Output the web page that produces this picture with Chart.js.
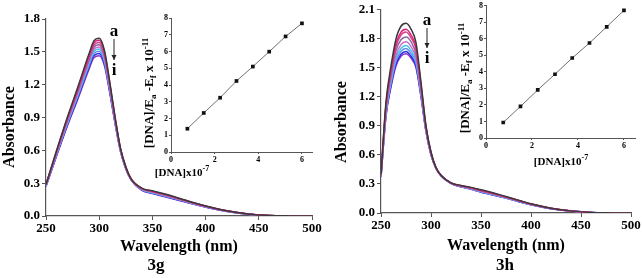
<!DOCTYPE html>
<html>
<head>
<meta charset="utf-8">
<script src="https://cdn.jsdelivr.net/npm/chart.js@4.4.1/dist/chart.umd.min.js"></script>
<style>
  body { margin: 0; background: #fff; width: 642px; height: 278px; overflow: hidden; position: relative; }
  canvas { position: absolute; left: 0; top: 0; }
</style>
</head>
<body>
<canvas id="main3g" width="642" height="278"></canvas>
<canvas id="inset3g" width="642" height="278"></canvas>
<canvas id="main3h" width="642" height="278"></canvas>
<canvas id="inset3h" width="642" height="278"></canvas>
<script>
// UV-vis titration spectra (a -> i) with Wolfe-Shimer insets

// ── 3g spectra ──────────────────────────────────────────────
const WAVE_3G = [250,260,270,280,290,295,300,305,310,315,320,325,330,340,350,360,370,380,390,400,420,440,460,480,500];
const ABS_3G_A = [0.290,0.600,0.900,1.180,1.470,1.600,1.625,1.510,1.220,0.900,0.620,0.450,0.340,0.255,0.230,0.205,0.178,0.148,0.118,0.092,0.048,0.019,0.004,0.001,0];
const ABS_3G_B = [0.288,0.594,0.890,1.166,1.453,1.581,1.605,1.493,1.208,0.893,0.616,0.448,0.339,0.253,0.227,0.202,0.175,0.146,0.116,0.091,0.047,0.019,0.004,0.001,0];
const ABS_3G_C = [0.285,0.588,0.880,1.153,1.435,1.561,1.585,1.475,1.195,0.885,0.613,0.445,0.338,0.250,0.224,0.199,0.172,0.144,0.115,0.090,0.047,0.018,0.004,0.001,0];
const ABS_3G_D = [0.283,0.581,0.870,1.139,1.418,1.542,1.565,1.458,1.183,0.878,0.609,0.443,0.336,0.248,0.221,0.196,0.169,0.141,0.113,0.088,0.046,0.018,0.004,0.001,0];
const ABS_3G_E = [0.280,0.575,0.860,1.125,1.400,1.523,1.545,1.440,1.170,0.870,0.605,0.440,0.335,0.245,0.218,0.193,0.167,0.139,0.112,0.087,0.045,0.018,0.004,0.001,0];
const ABS_3G_F = [0.278,0.569,0.850,1.111,1.383,1.503,1.525,1.423,1.158,0.863,0.601,0.438,0.334,0.243,0.214,0.189,0.164,0.137,0.110,0.086,0.044,0.017,0.003,0.001,0];
const ABS_3G_G = [0.275,0.563,0.840,1.098,1.365,1.484,1.505,1.405,1.145,0.855,0.598,0.435,0.333,0.240,0.211,0.186,0.161,0.135,0.108,0.085,0.044,0.017,0.003,0.001,0];
const ABS_3G_H = [0.273,0.556,0.830,1.084,1.348,1.464,1.485,1.388,1.133,0.848,0.594,0.433,0.331,0.238,0.208,0.183,0.158,0.132,0.107,0.083,0.043,0.016,0.003,0,0];
const ABS_3G_I = [0.270,0.550,0.820,1.070,1.330,1.445,1.465,1.370,1.120,0.840,0.590,0.430,0.330,0.235,0.205,0.180,0.155,0.130,0.105,0.082,0.042,0.016,0.003,0,0];

// ── 3h spectra ──────────────────────────────────────────────
const WAVE_3H = [250,255,260,265,270,275,280,285,290,295,300,305,310,320,330,340,350,360,370,380,390,400,420,440,460,480,500];
const ABS_3H_A = [0.400,1.150,1.520,1.800,1.930,1.960,1.900,1.760,1.350,0.900,0.630,0.470,0.390,0.312,0.285,0.265,0.240,0.215,0.185,0.155,0.125,0.095,0.050,0.022,0.006,0.001,0];
const ABS_3H_B = [0.394,1.120,1.480,1.750,1.870,1.900,1.840,1.710,1.320,0.889,0.624,0.468,0.389,0.311,0.282,0.261,0.235,0.210,0.181,0.152,0.122,0.093,0.049,0.022,0.006,0.001,0];
const ABS_3H_C = [0.391,1.110,1.460,1.720,1.840,1.870,1.810,1.690,1.310,0.883,0.621,0.467,0.388,0.310,0.281,0.259,0.233,0.208,0.179,0.151,0.121,0.092,0.049,0.021,0.006,0.001,0];
const ABS_3H_D = [0.387,1.080,1.420,1.680,1.790,1.820,1.770,1.640,1.280,0.873,0.617,0.466,0.388,0.309,0.278,0.256,0.229,0.204,0.176,0.148,0.118,0.091,0.048,0.021,0.006,0.001,0];
const ABS_3H_E = [0.382,1.060,1.390,1.630,1.740,1.770,1.720,1.600,1.260,0.864,0.612,0.464,0.387,0.308,0.276,0.253,0.225,0.200,0.173,0.146,0.116,0.089,0.047,0.021,0.005,0.001,0];
const ABS_3H_F = [0.378,1.040,1.360,1.600,1.700,1.730,1.680,1.570,1.240,0.856,0.608,0.463,0.386,0.307,0.274,0.250,0.222,0.197,0.170,0.144,0.114,0.088,0.046,0.021,0.005,0.001,0];
const ABS_3H_G = [0.375,1.030,1.340,1.570,1.670,1.700,1.650,1.550,1.230,0.850,0.605,0.462,0.386,0.306,0.273,0.248,0.219,0.194,0.169,0.143,0.113,0.087,0.046,0.020,0.005,0.001,0];
const ABS_3H_H = [0.372,1.010,1.320,1.540,1.640,1.670,1.620,1.520,1.210,0.845,0.602,0.461,0.385,0.306,0.271,0.247,0.217,0.192,0.167,0.141,0.111,0.086,0.045,0.020,0.005,0.001,0];
const ABS_3H_I = [0.370,1.000,1.300,1.520,1.620,1.645,1.600,1.500,1.200,0.840,0.600,0.460,0.385,0.305,0.270,0.245,0.215,0.190,0.165,0.140,0.110,0.085,0.045,0.020,0.005,0.001,0];

const CURVE_LABELS = ['a','b','c','d','e','f','g','h','i'];
const CURVE_COLORS = ['#3a3a3a','#e0207a','#d04890','#8a6aa0','#c870d0','#40c8e8','#6a8ae8','#2030f0','#9a30c0'];

// ── inset: [DNA]/(εa-εf) vs [DNA] ──────────────────────────
const DNA_CONC  = [0.75, 1.5, 2.25, 3.0, 3.75, 4.5, 5.25, 6.0];
const RATIO_3G  = [1.39, 2.33, 3.24, 4.24, 5.10, 5.99, 6.90, 7.68];
const RATIO_3H  = [0.94, 1.91, 2.91, 3.86, 4.84, 5.75, 6.73, 7.72];

const SERIF = "'Liberation Serif', 'Times New Roman', serif";
const AXIS  = '#555';

function richText(c, parts, x, y, size, vertical) {
  c.save();
  c.translate(x, y);
  if (vertical) c.rotate(-Math.PI / 2);
  c.fillStyle = '#000';
  c.textBaseline = 'middle';
  c.textAlign = 'left';
  const fontOf = p => `bold ${(p.sub || p.sup) ? Math.round(size * 0.7) : size}px ${SERIF}`;
  let total = 0;
  for (const p of parts) { c.font = fontOf(p); total += c.measureText(p.t).width; }
  let cx = -total / 2;
  for (const p of parts) {
    c.font = fontOf(p);
    const dy = p.sub ? size * 0.3 : p.sup ? -size * 0.35 : 0;
    c.fillText(p.t, cx, dy);
    cx += c.measureText(p.t).width;
  }
  c.restore();
}

function notesPlugin(o) {
  return {
    id: 'notes',
    afterDraw(chart) {
      const c = chart.ctx;
      c.save();
      c.fillStyle = '#000';
      c.textAlign = 'center';
      c.textBaseline = 'middle';
      // y axis title
      richText(c, [{ t: 'Absorbance' }], o.ytX, o.ytY, 16, true);
      // panel caption
      c.font = `bold 17px ${SERIF}`;
      c.fillText(o.caption, o.capX, o.capY);
      // a -> i arrow
      const ax = o.arrow.x;
      c.fillText('a', ax, o.arrow.a);
      c.fillText('i', ax, o.arrow.i);
      c.strokeStyle = '#222';
      c.lineWidth = 1;
      c.beginPath();
      c.moveTo(ax, o.arrow.y0);
      c.lineTo(ax, o.arrow.y1);
      c.stroke();
      c.beginPath();
      c.moveTo(ax - 2.5, o.arrow.y1 - 5);
      c.lineTo(ax + 2.5, o.arrow.y1 - 5);
      c.lineTo(ax, o.arrow.y1);
      c.closePath();
      c.fillStyle = '#222';
      c.fill();
      c.restore();
    }
  };
}

function buildSpectrum(id, waves, curves, o) {
  new Chart(document.getElementById(id), {
    type: 'line',
    data: {
      datasets: curves.map((vals, k) => ({
        label: CURVE_LABELS[k],
        data: vals.map((v, j) => ({ x: waves[j], y: v })),
        borderColor: CURVE_COLORS[k],
        borderWidth: 1.5,
        pointRadius: 0,
        fill: false,
        cubicInterpolationMode: 'monotone',
      }))
    },
    plugins: [notesPlugin(o)],
    options: {
      responsive: false,
      animation: false,
      layout: { padding: o.pad },
      plugins: { legend: { display: false }, tooltip: { enabled: false } },
      scales: {
        x: {
          type: 'linear', min: 250, max: 500,
          ticks: { stepSize: 50, color: '#000', padding: 1, maxRotation: 0, font: { family: SERIF, weight: 'bold', size: 13 } },
          grid: { drawOnChartArea: false, tickLength: 4, color: AXIS },
          border: { color: AXIS, width: 1.2 },
          title: { display: true, text: 'Wavelength (nm)', color: '#000', padding: 0, font: { family: SERIF, weight: 'bold', size: 16 } },
          afterFit: s => { s.height = o.xh; }
        },
        y: {
          min: 0, max: o.yMax,
          ticks: { stepSize: 0.3, color: '#000', padding: 2, font: { family: SERIF, weight: 'bold', size: 13 }, callback: v => v.toFixed(1) },
          grid: { drawOnChartArea: false, tickLength: 4, color: AXIS },
          border: { color: AXIS, width: 1.2 },
          afterFit: s => { s.width = o.yw; }
        }
      }
    }
  });
}

function insetTitlesPlugin(o) {
  return {
    id: 'insetTitles',
    afterDraw(chart) {
      const c = chart.ctx;
      richText(c, [{ t: '[DNA]x10' }, { t: '-7', sup: true }], o.xtX, o.xtY, 11, false);
      richText(c, [
        { t: '[DNA]/E' }, { t: 'a', sub: true }, { t: ' -E' }, { t: 'f', sub: true },
        { t: ' x 10' }, { t: '-11', sup: true }
      ], o.ytX, o.ytY, 13, true);
    }
  };
}

function buildInset(id, xs, ys, o) {
  const tickFont = { family: SERIF, weight: 'bold', size: 8 };
  new Chart(document.getElementById(id), {
    type: 'line',
    data: {
      datasets: [{
        data: xs.map((x, j) => ({ x, y: ys[j] })),
        borderColor: '#707070',
        borderWidth: 1,
        pointStyle: 'rect',
        pointRadius: 2.6,
        pointBackgroundColor: '#111',
        pointBorderColor: '#111',
        pointBorderWidth: 0,
        tension: 0,
      }]
    },
    plugins: [insetTitlesPlugin(o)],
    options: {
      responsive: false,
      animation: false,
      layout: { padding: o.pad },
      plugins: { legend: { display: false }, tooltip: { enabled: false } },
      scales: {
        x: {
          type: 'linear', min: 0, max: o.xMax,
          ticks: { stepSize: 2, includeBounds: false, color: '#000', padding: 1, maxRotation: 0, font: tickFont },
          grid: { drawOnChartArea: false, tickLength: 2, color: AXIS },
          border: { color: AXIS, width: 1 },
          afterFit: s => { s.height = 12; }
        },
        y: {
          min: 0, max: 8,
          ticks: { stepSize: 1, color: '#000', padding: 1, font: tickFont },
          grid: { drawOnChartArea: false, tickLength: 2, color: AXIS },
          border: { color: AXIS, width: 1 },
          afterFit: s => { s.width = 14; }
        }
      }
    }
  });
}

buildSpectrum('main3g', WAVE_3G,
  [ABS_3G_A, ABS_3G_B, ABS_3G_C, ABS_3G_D, ABS_3G_E, ABS_3G_F, ABS_3G_G, ABS_3G_H, ABS_3G_I], {
  pad: { left: 0, right: 330, top: 19, bottom: 22 }, yw: 46, xh: 40, yMax: 1.8,
  ytX: 10, ytY: 127,
  caption: '3g', capX: 156, capY: 266,
  arrow: { x: 114, a: 32, y0: 39, y1: 60, i: 71 }
});
buildInset('inset3g', DNA_CONC, RATIO_3G, {
  pad: { left: 157, right: 330, top: 18, bottom: 114 }, xMax: 6.46,
  xtX: 182, xtY: 173, ytX: 150, ytY: 93
});
buildSpectrum('main3h', WAVE_3H,
  [ABS_3H_A, ABS_3H_B, ABS_3H_C, ABS_3H_D, ABS_3H_E, ABS_3H_F, ABS_3H_G, ABS_3H_H, ABS_3H_I], {
  pad: { left: 332, right: 11, top: 9, bottom: 23 }, yw: 49, xh: 42, yMax: 2.1,
  ytX: 342, ytY: 122,
  caption: '3h', capX: 505, capY: 266,
  arrow: { x: 427, a: 21, y0: 28, y1: 48, i: 59 }
});
buildInset('inset3h', DNA_CONC, RATIO_3H, {
  pad: { left: 472, right: 7, top: 5, bottom: 128 }, xMax: 6.48,
  xtX: 561, xtY: 162, ytX: 466, ytY: 78
});
</script>
</body>
</html>
